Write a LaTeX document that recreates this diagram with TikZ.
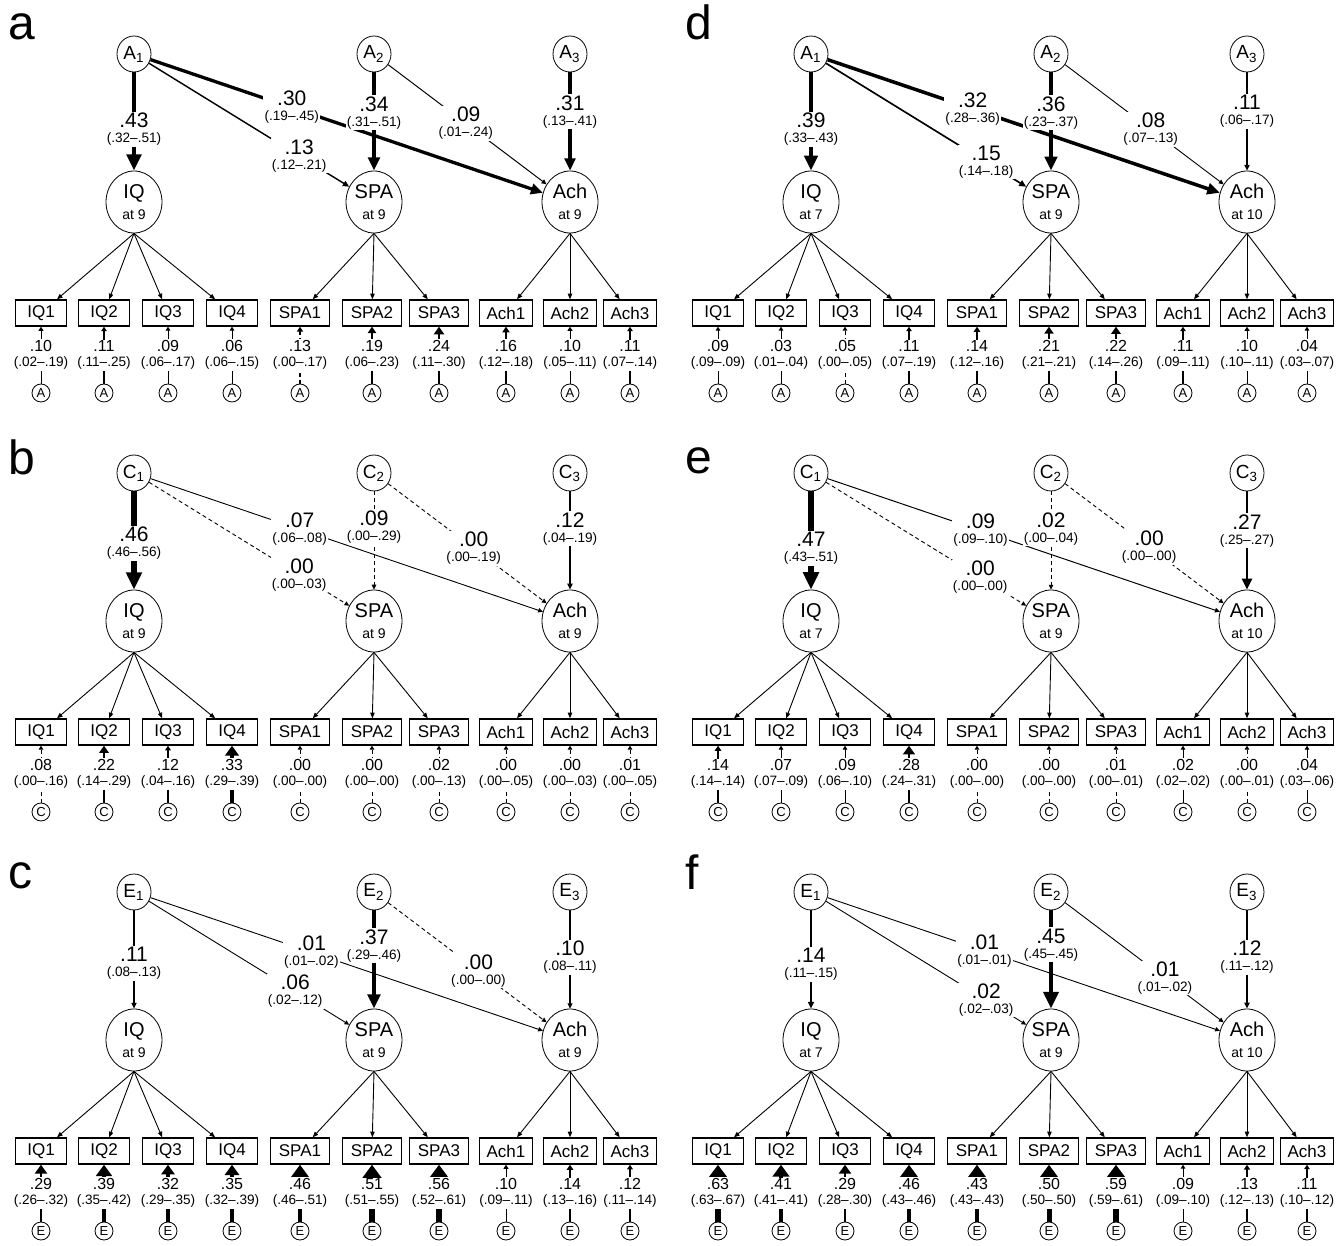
\documentclass[tikz,border=0pt]{standalone}
\usepackage{fontspec}
\setmainfont{Liberation Sans}
\usetikzlibrary{arrows.meta,shapes.geometric}

\newcommand{\pathnum}{\fontsize{10.5}{10}\selectfont}
\newcommand{\resnum}{\fontsize{8}{8}\selectfont}
\newcommand{\agetxt}{\fontsize{7}{7}\selectfont}

\tikzset{
  fac/.style={draw,ellipse,inner sep=0pt,minimum width=17pt,minimum height=18pt,font=\fontsize{9.5}{9.5}\selectfont},
  lat/.style={draw,ellipse,inner sep=0pt,minimum width=28pt,minimum height=31pt,align=center,font=\fontsize{10}{10}\selectfont},
  ind/.style={draw,line width=0.7pt,inner sep=0pt,minimum height=13pt,font=\fontsize{8.5}{8.5}\selectfont},
  err/.style={draw,circle,inner sep=0pt,minimum size=9pt,font=\fontsize{6.5}{6.5}\selectfont},
  plab/.style={anchor=base west,inner sep=0pt,font=\fontsize{24}{24}\selectfont},
  coef/.style={fill=white,inner sep=0.6pt,align=center,font=\fontsize{6.8}{7.5}\selectfont},
  load/.style={line width=0.45pt,-{Triangle[length=2.8pt,width=2.2pt]}},
  reg/.style={line width={max(0.45,#1*5.5)*1pt},-{Triangle[length=1pt 3,width=1pt 2.6]}},
  res/.style={line width={max(0.45,#1*5)*1pt},-{Triangle[length=0.8pt 2.5,width=0.6pt 3.7]}},
  sig/.style={},
  ns/.style={dash pattern=on 2pt off 1.5pt},
}

% #1 letter, #2 shift, #3 factor, #4 IQ age, #5 Ach age, #6 letter baseline,
% #7 paths, #8 residual variances
\newcommand{\sempanel}[8]{%
\begin{scope}[shift={#2}]
  \node[plab] (#1lab) at (8,#6) {#1};
  \node[fac] (#1f1) at (134,54) {#3\textsubscript{1}};
  \node[fac] (#1f2) at (374,54) {#3\textsubscript{2}};
  \node[fac] (#1f3) at (570,54) {#3\textsubscript{3}};
  \node[lat] (#1IQ) at (134,202) {IQ\\[0.5pt]\agetxt at #4};
  \node[lat] (#1SPA) at (374,202) {SPA\\[0.5pt]\agetxt at 9};
  \node[lat] (#1Ach) at (570,202) {Ach\\[0.5pt]\agetxt at #5};
  \foreach \n/\x/\w/\lv in {IQ1/41/25.5/IQ,IQ2/104/25.5/IQ,IQ3/168/25.5/IQ,IQ4/232/25.5/IQ,
      SPA1/300/29.5/SPA,SPA2/372/29.5/SPA,SPA3/439/29.5/SPA,
      Ach1/506/26.5/Ach,Ach2/570/26.5/Ach,Ach3/630/26.5/Ach}{
    \node[ind,minimum width=\w pt] (#1\n) at (\x,313) {\n};
    \node[err] (#1e\n) at (\x,393) {#3};
    \draw[load] (#1\lv.south) -- (#1\n);
  }
  % residual variances
  \foreach \n/\v/\ci/\s in {#8}
    \draw[res={0\v},\s] (#1e\n) -- node[coef]{{\resnum\v}\\(\ci)} (#1\n);
  % genetic / environmental paths
  \foreach \src/\dst/\v/\ci/\p/\s in {#7}
    \draw[reg={0\v},\s] (#1f\src) -- node[coef,pos=\p]{{\pathnum\v}\\(\ci)} (#1\dst);
\end{scope}}

\begin{document}
\begin{tikzpicture}[x=0.5pt,y=-0.5pt]
  \useasboundingbox (0,0) rectangle (1341,1246);

  \sempanel{a}{(0,0)}{A}{9}{9}{40}
    {1/IQ/.43/.32--.51/.58/sig, 1/SPA/.13/.12--.21/.75/sig, 1/Ach/.30/.19--.45/.36/sig,
     2/SPA/.34/.31--.51/.41/sig, 2/Ach/.09/.01--.24/.49/sig, 3/Ach/.31/.13--.41/.40/sig}
    {IQ1/.10/.02--.19/sig, IQ2/.11/.11--.25/sig, IQ3/.09/.06--.17/sig, IQ4/.06/.06--.15/sig,
     SPA1/.13/.00--.17/ns, SPA2/.19/.06--.23/sig, SPA3/.24/.11--.30/sig,
     Ach1/.16/.12--.18/sig, Ach2/.10/.05--.11/sig, Ach3/.11/.07--.14/sig}

  \sempanel{b}{(0,419)}{C}{9}{9}{56}
    {1/IQ/.46/.46--.56/.53/sig, 1/SPA/.00/.00--.03/.75/ns, 1/Ach/.07/.06--.08/.38/sig,
     2/SPA/.09/.00--.29/.36/ns, 2/Ach/.00/.00--.19/.54/ns, 3/Ach/.12/.04--.19/.38/sig}
    {IQ1/.08/.00--.16/ns, IQ2/.22/.14--.29/sig, IQ3/.12/.04--.16/sig, IQ4/.33/.29--.39/sig,
     SPA1/.00/.00--.00/ns, SPA2/.00/.00--.00/ns, SPA3/.02/.00--.13/ns,
     Ach1/.00/.00--.05/ns, Ach2/.00/.00--.03/ns, Ach3/.01/.00--.05/ns}

  \sempanel{c}{(0,838)}{E}{9}{9}{50}
    {1/IQ/.11/.08--.13/.54/sig, 1/SPA/.06/.02--.12/.73/sig, 1/Ach/.01/.01--.02/.41/sig,
     2/SPA/.37/.29--.46/.36/sig, 2/Ach/.00/.00--.00/.57/ns, 3/Ach/.10/.08--.11/.48/sig}
    {IQ1/.29/.26--.32/sig, IQ2/.39/.35--.42/sig, IQ3/.32/.29--.35/sig, IQ4/.35/.32--.39/sig,
     SPA1/.46/.46--.51/sig, SPA2/.51/.51--.55/sig, SPA3/.56/.52--.61/sig,
     Ach1/.10/.09--.11/sig, Ach2/.14/.13--.16/sig, Ach3/.12/.11--.14/sig}

  \sempanel{d}{(677,0)}{A}{7}{10}{40}
    {1/IQ/.39/.33--.43/.58/sig, 1/SPA/.15/.14--.18/.8/sig, 1/Ach/.32/.28--.36/.37/sig,
     2/SPA/.36/.23--.37/.41/sig, 2/Ach/.08/.07--.13/.54/sig, 3/Ach/.11/.06--.17/.40/sig}
    {IQ1/.09/.09--.09/sig, IQ2/.03/.01--.04/sig, IQ3/.05/.00--.05/ns, IQ4/.11/.07--.19/sig,
     SPA1/.14/.12--.16/sig, SPA2/.21/.21--.21/sig, SPA3/.22/.14--.26/sig,
     Ach1/.11/.09--.11/sig, Ach2/.10/.10--.11/sig, Ach3/.04/.03--.07/sig}

  \sempanel{e}{(677,419)}{C}{7}{10}{55}
    {1/IQ/.47/.43--.51/.58/sig, 1/SPA/.00/.00--.00/.77/ns, 1/Ach/.09/.09--.10/.39/sig,
     2/SPA/.02/.00--.04/.38/ns, 2/Ach/.00/.00--.00/.53/ns, 3/Ach/.27/.25--.27/.40/sig}
    {IQ1/.14/.14--.14/sig, IQ2/.07/.07--.09/sig, IQ3/.09/.06--.10/sig, IQ4/.28/.24--.31/sig,
     SPA1/.00/.00--.00/ns, SPA2/.00/.00--.00/ns, SPA3/.01/.00--.01/ns,
     Ach1/.02/.02--.02/sig, Ach2/.00/.00--.01/ns, Ach3/.04/.03--.06/sig}

  \sempanel{f}{(677,838)}{E}{7}{10}{51}
    {1/IQ/.14/.11--.15/.55/sig, 1/SPA/.02/.02--.03/.8/sig, 1/Ach/.01/.01--.01/.40/sig,
     2/SPA/.45/.45--.45/.35/sig, 2/Ach/.01/.01--.02/.63/sig, 3/Ach/.12/.11--.12/.48/sig}
    {IQ1/.63/.63--.67/sig, IQ2/.41/.41--.41/sig, IQ3/.29/.28--.30/sig, IQ4/.46/.43--.46/sig,
     SPA1/.43/.43--.43/sig, SPA2/.50/.50--.50/sig, SPA3/.59/.59--.61/sig,
     Ach1/.09/.09--.10/sig, Ach2/.13/.12--.13/sig, Ach3/.11/.10--.12/sig}
\end{tikzpicture}
\end{document}
